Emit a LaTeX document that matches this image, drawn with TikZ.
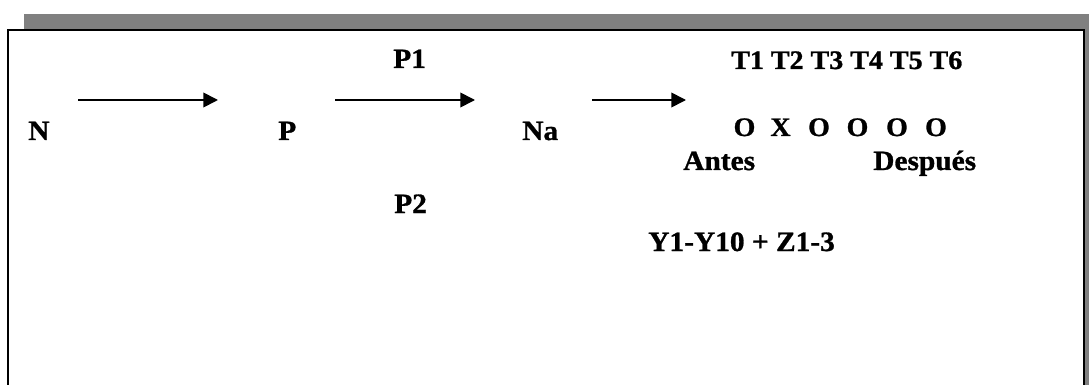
\documentclass[tikz,border=0pt]{standalone}
\usepackage{fontspec}
\setmainfont{Liberation Serif}
\newfontfamily\wfont[FakeStretch=1.05,BoldFeatures={FakeBold=1}]{Liberation Serif}
\usetikzlibrary{arrows.meta}
\definecolor{shadowgray}{HTML}{808080}
\begin{document}
\begin{tikzpicture}[x=0.75pt,y=-0.75pt,
  lbl/.style={inner sep=0pt, font=\wfont\bfseries\fontsize{21}{24}\selectfont},
  sml/.style={inner sep=0pt, font=\wfont\bfseries\fontsize{20}{23}\selectfont},
  arr/.style={line width=1.3pt,-{Triangle[length=11pt,width=11pt]}},
  frame/.style={line width=1.5pt, draw=black, fill=white}]
\useasboundingbox (0,0) rectangle (1090,385);
\clip (0,0) rectangle (1090,385);
\fill[shadowgray] (24,14) rectangle (1089,420);
\draw[frame] (8,30) rectangle (1084,430);
% labels
\node[lbl, anchor=base west] (n) at (28,140) {N};
\node[lbl, anchor=base west] (p) at (278,140) {P};
\node[lbl, anchor=base west] (na) at (522,140) {Na};
\node[lbl, anchor=base west] (p1) at (393,68) {P1};
\node[lbl, anchor=base west] (p2) at (394,213) {P2};
\node[sml, anchor=base west] (t) at (731,69) {T1 T2 T3 T4 T5 T6};
\node[sml, anchor=base] (o1) at (744.5,136) {O};
\node[sml, anchor=base] (x2) at (780.5,136) {X};
\node[sml, anchor=base] (o3) at (819,136) {O};
\node[sml, anchor=base] (o4) at (857.5,136) {O};
\node[sml, anchor=base] (o5) at (897,136) {O};
\node[sml, anchor=base] (o6) at (936,136) {O};
\node[lbl, anchor=base west] (antes) at (683,170) {Antes};
\node[lbl, anchor=base west] (desp) at (873,170) {Después};
\node[lbl, anchor=base west] (y) at (648,251) {Y1-Y10 + Z1-3};
% arrows
\coordinate (a1s) at (78,100);
\coordinate (a1e) at (218,100);
\coordinate (a2s) at (335,100);
\coordinate (a2e) at (475,100);
\coordinate (a3s) at (592,100);
\coordinate (a3e) at (686,100);
\draw[arr] (a1s) -- (a1e);
\draw[arr] (a2s) -- (a2e);
\draw[arr] (a3s) -- (a3e);
\end{tikzpicture}
\end{document}
